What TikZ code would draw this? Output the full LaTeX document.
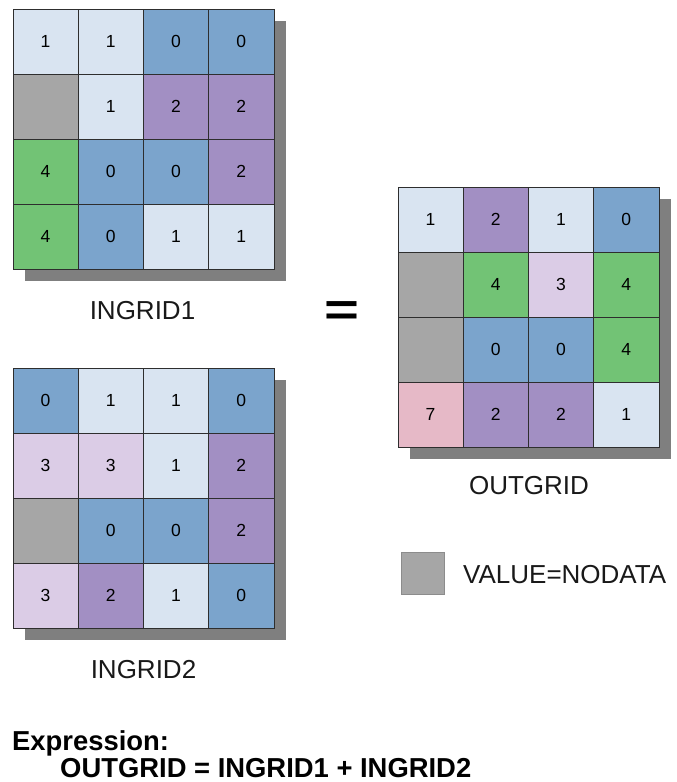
\documentclass[tikz,border=0pt]{standalone}
\usepackage{fontspec}
\setmainfont{Liberation Sans}
\definecolor{lb}{HTML}{D9E4F1}
\definecolor{mb}{HTML}{7BA4CC}
\definecolor{pu}{HTML}{A28FC3}
\definecolor{lp}{HTML}{DBCCE6}
\definecolor{gr}{HTML}{72C375}
\definecolor{na}{HTML}{A6A6A6}
\definecolor{pk}{HTML}{E6B9C7}
\definecolor{shadowc}{HTML}{7F7F7F}
\definecolor{linec}{HTML}{2E2E2E}
\tikzset{
  cell/.style={draw=linec, line width=0.7pt, minimum width=65.25pt, minimum height=65pt,
    inner sep=0pt, font=\fontsize{17.5}{17.5}\selectfont, text=black},
  lbl/.style={anchor=base, font=\fontsize{26}{30}\selectfont, text=black!90, inner sep=0pt},
  expr/.style={anchor=base west, font=\bfseries\fontsize{27.4}{32}\selectfont, inner sep=0pt, text depth=0pt},
  shadowbox/.style={fill=shadowc}
}
\newcommand\rastergrid[4]{%
  \fill[shadowbox] (#2+12,#3+12) rectangle (#2+273,#3+272);
  \foreach \cc/\vv [count=\i from 0] in {#4} {
    \pgfmathtruncatemacro\col{mod(\i,4)}
    \pgfmathtruncatemacro\row{floor(\i/4)}
    \node[cell, fill=\cc] (#1-\row-\col) at ({#2+65.25*\col+32.6},{#3+65*\row+32.5}) {\vv};
  }
}
\begin{document}
\begin{tikzpicture}[x=1pt,y=-1pt]
\useasboundingbox[fill=white] (0,0) rectangle (677,782);
\rastergrid{ga}{13}{9}{lb/1,lb/1,mb/0,mb/0, na/{},lb/1,pu/2,pu/2, gr/4,mb/0,mb/0,pu/2, gr/4,mb/0,lb/1,lb/1}
\rastergrid{gb}{13}{368}{mb/0,lb/1,lb/1,mb/0, lp/3,lp/3,lb/1,pu/2, na/{},mb/0,mb/0,pu/2, lp/3,pu/2,lb/1,mb/0}
\rastergrid{go}{398}{187}{lb/1,pu/2,lb/1,mb/0, na/{},gr/4,lp/3,gr/4, na/{},mb/0,mb/0,gr/4, pk/7,pu/2,pu/2,lb/1}
\node[lbl] (l1) at (142.5,319) {INGRID1};
\node[lbl] (l2) at (143.5,678) {INGRID2};
\node[lbl] (lo) at (529,494) {OUTGRID};
\node[font=\bfseries\fontsize{46}{46}\selectfont, xscale=1.3, inner sep=0pt] (eq) at (342,314) {=};
\node[draw=black!45, fill=na, line width=0.7pt, minimum width=43pt, minimum height=42pt, inner sep=0pt] (leg) at (422.5,573) {};
\node[lbl, anchor=base west] (legt) at (463,583) {VALUE=NODATA};
\node[expr] (e1) at (12,750) {Expression:};
\node[expr] (e2) at (60,777.5) {OUTGRID = INGRID1 + INGRID2};
\end{tikzpicture}
\end{document}
